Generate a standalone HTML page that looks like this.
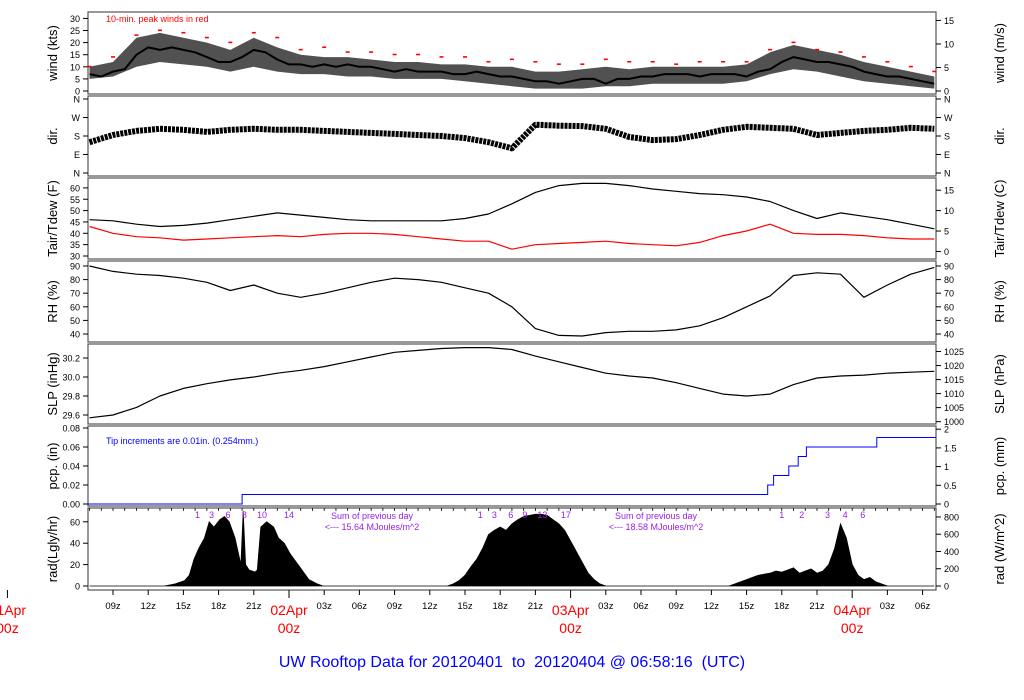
<!DOCTYPE html>
<html><head><meta charset="utf-8"><style>
html,body{margin:0;padding:0;background:#fff;}
svg{display:block;font-family:"Liberation Sans",sans-serif;}
</style></head><body>
<svg id="chart" width="1024" height="700" viewBox="0 0 1024 700" xmlns="http://www.w3.org/2000/svg"></svg>
<script>
// ---------- data ----------
const gridHours = [7,9,11,13,15,17,19,21,23,25,27,29,31,33,35,37,39,41,43,45,47,49,51,53,55,57,59,61,63,65,67,69,71,73,75,77,79];
const windHours = [];
for (let h = 7; h <= 79; h++) windHours.push(h);
const windKts = [7,6,8,9,15,18,17,18,17,16,14,12,12,14,17,16,13,11,11,10,11,10,11,10,10,9,8,9,8,8,8,7,7,8,7,6,6,5,4,4,3,4,5,5,3,5,5,6,6,7,7,7,6,7,7,7,6,8,9,12,14,13,12,12,11,10,8,7,6,6,5,4,3];
const windLo = [5,6,10,12,11,10,8,10,8,7,7,6,6,5,5,5,4,3,2,1,1,1,2,2,3,3,3,3,4,7,9,8,6,4,3,2,1];
const windHi = [10,12,22,24,22,20,17,22,18,15,14,14,13,12,12,11,11,10,10,8,8,9,10,9,10,10,10,10,11,16,19,17,15,12,10,8,6];
const gustKts = [10,14,23,25,24,22,20,24,22,17,18,16,16,15,15,14,14,12,13,12,11,11,13,12,12,11,12,12,12,17,20,17,16,14,12,10,8];
const dirDeg = [150,185,205,215,210,200,210,215,210,210,205,200,195,190,185,180,170,150,120,235,230,228,215,175,160,165,185,210,225,220,215,185,195,205,210,220,215];
const tairF = [46,45.5,44,43,43.5,44.5,46,47.5,49,48,47,46,45.5,45.5,45.5,45.5,46.5,48.5,53,58,61,62,62,61,59.5,58.5,57.5,57,56,54,50,46.5,49,47.5,46,44,42];
const tdewF = [43,40,38.5,38,37,37.5,38,38.5,39,38.5,39.5,40,40,39.5,38.5,37.5,36.5,36.5,33,35,35.5,36,36.5,35.5,35,34.5,36,39,41,44,40,39.5,39.5,39,38,37.5,37.5];
const rhPct = [90,86,84,83,81,78,72,76,70,67,70,74,78,81,80,78,74,70,60,44,39,38.5,41,42,42,43,46,52,60,68,83,85,84,67,76,84,89];
const slpIn = [29.57,29.6,29.68,29.8,29.88,29.93,29.97,30.0,30.04,30.07,30.11,30.16,30.21,30.26,30.28,30.3,30.31,30.31,30.29,30.22,30.16,30.1,30.04,30.01,29.99,29.94,29.88,29.82,29.8,29.82,29.92,29.99,30.01,30.02,30.04,30.05,30.06];
const tipHours = [20.0,64.8,65.3,66.6,67.4,68.1,74.1];
const tipSize = 0.01;
const radHours = [7,13.4,14.3,15.1,15.5,15.9,16.3,16.8,17.2,17.6,18.1,18.5,18.9,19.4,19.9,20.1,20.3,20.6,21.1,21.3,21.6,22.1,22.7,23.1,23.6,24.1,24.9,25.3,25.7,26.4,26.9,
  37.5,38,38.5,39,39.5,40,40.5,41,41.5,42,42.5,43,43.5,44,44.5,45,45.5,46,46.5,47,47.5,48,48.5,49,49.5,50,50.5,51,
  61.5,62,62.5,63,63.5,64,64.5,65,65.5,66,66.5,67,67.5,68,68.5,69,69.5,70,70.5,71,71.5,72,72.5,73,73.5,74,74.5,75,79];
const radLgly = [0,0,2,5,10,25,35,45,60,55,62,65,60,45,20,70,20,15,13,15,55,60,55,45,40,30,18,12,6,2,0,
  0,2,5,10,18,25,35,48,52,55,52,58,62,65,66,67,67,66,62,58,52,42,32,22,12,6,2,0,
  0,2,4,6,8,10,11,12,14,13,15,17,12,14,16,12,14,20,35,58,45,20,10,6,8,4,2,0,0];
const timeTicks = [9,12,15,18,21,27,30,33,36,39,42,45,51,54,57,60,63,66,69,75,78];
const timeTickLabels = ["09z","12z","15z","18z","21z","03z","06z","09z","12z","15z","18z","21z","03z","06z","09z","12z","15z","18z","21z","03z","06z"];
const dayTicks = [0,24,48,72];
const dayLabels = ["01Apr","02Apr","03Apr","04Apr"];
const windTicks = [0,5,10,15,20,25,30];
const windMsTicks = [0,5,10,15];
const dirTicks = [0,90,180,270,360];
const dirLabels = ["N","E","S","W","N"];
const tTicks = [30,35,40,45,50,55,60];
const tcTicks = [0,5,10,15];
const rhTicks = [40,50,60,70,80,90];
const slpTicks = [29.6,29.8,30.0,30.2];
const hpaTicks = [1000,1005,1010,1015,1020,1025];
const pcpTicks = [0,0.02,0.04,0.06,0.08];
const mmTicks = [0,0.5,1,1.5,2];
const radTicks = [0,20,40,60];
const wm2Ticks = [0,200,400,600,800];
const sunCounts1 = ["1","3","6","8","10","14"];
const sunHours1 = [16.2,17.4,18.8,20.2,21.7,24.0];
const sunCounts2 = ["1","3","6","9","13","17"];
const sunHours2 = [40.3,41.5,42.9,44.1,45.6,47.6];
const sunCounts3 = ["1","2","3","4","6"];
const sunHours3 = [66.0,67.7,69.9,71.4,72.9];

// ---------- scales ----------
const L = 88, R = 936;
const X = h => 289 + (h - 24) * 11.733;
const windY = k => 91 - k * 2.42;
const dirY = d => 173 - d * 74 / 360;
const tY = f => 256 - (f - 30) * 2.27;
const rhY = r => 334 - (r - 40) * 1.36;
const slpY = p => 377 - (p - 30) * 95;
const pcpY = i => 504 - i * 950;
const radY = l => 586 - l * 1.07;
const wmY = w => 586 - w * 0.0863;

const svg = document.getElementById('chart');
const NS = 'http://www.w3.org/2000/svg';
function mk(tag, attrs, parent) {
  const e = document.createElementNS(NS, tag);
  for (const k in attrs) e.setAttribute(k, attrs[k]);
  (parent || svg).appendChild(e);
  return e;
}
function txt(s, x, y, size, fill, anchor, parent) {
  const t = mk('text', {x: x, y: y, 'font-size': size, fill: fill, 'text-anchor': anchor || 'middle'}, parent);
  t.textContent = s;
  return t;
}

const panels = [
  {name:'wind', top:12, bot:94, left:'wind (kts)', right:'wind (m/s)'},
  {name:'direction', top:96, bot:176, left:'dir.', right:'dir.'},
  {name:'temperature', top:178, bot:259, left:'Tair/Tdew (F)', right:'Tair/Tdew (C)'},
  {name:'humidity', top:261, bot:342, left:'RH (%)', right:'RH (%)'},
  {name:'pressure', top:344, bot:424, left:'SLP (inHg)', right:'SLP (hPa)'},
  {name:'precip', top:426, bot:506, left:'pcp. (in)', right:'pcp. (mm)'},
  {name:'radiation', top:508, bot:590, left:'rad(Lgly/hr)', right:'rad (W/m^2)'}
];
const groups = {};
panels.forEach(p => {
  const g = mk('g', {});
  
  
  groups[p.name] = g;
  const box = mk('rect', {x:L, y:p.top, width:R-L, height:p.bot-p.top, fill:'none', stroke:'#555', 'stroke-width':1.2}, g);
  
  
  const cy = (p.top + p.bot) / 2;
  const lt = txt(p.left, 0, 0, 13, '#000', 'middle', g);
  lt.setAttribute('transform', 'translate(57,' + cy + ') rotate(-90)');
  
  
  const rt = txt(p.right, 0, 0, 13, '#000', 'middle', g);
  rt.setAttribute('transform', 'translate(1004,' + cy + ') rotate(-90)');
  
  
});

function leftTicks(g, vals, labels, yf, name) {
  vals.forEach((v, i) => {
    const y = yf(v);
    const t = mk('line', {x1:L-5, x2:L, y1:y, y2:y, stroke:'#000'}, g);
    
    
    const l = txt(labels[i], L-8, y+3.5, 9, '#000', 'end', g);
    
    
  });
}
function rightTicks(g, vals, labels, yf, name) {
  vals.forEach((v, i) => {
    const y = yf(v);
    const t = mk('line', {x1:R, x2:R+5, y1:y, y2:y, stroke:'#000'}, g);
    
    
    const l = txt(labels[i], R+8, y+3.5, 9, '#000', 'start', g);
    
    
  });
}
const fmt = v => String(v);
leftTicks(groups.wind, windTicks, windTicks.map(fmt), windY, 'wind');
rightTicks(groups.wind, windMsTicks, windMsTicks.map(fmt), v => windY(v * 1.944), 'wind');
leftTicks(groups.direction, dirTicks, dirLabels, dirY, 'dir');
rightTicks(groups.direction, dirTicks, dirLabels, dirY, 'dir');
leftTicks(groups.temperature, tTicks, tTicks.map(fmt), tY, 'temp');
rightTicks(groups.temperature, tcTicks, tcTicks.map(fmt), v => tY(v * 1.8 + 32), 'temp');
leftTicks(groups.humidity, rhTicks, rhTicks.map(fmt), rhY, 'rh');
rightTicks(groups.humidity, rhTicks, rhTicks.map(fmt), rhY, 'rh');
leftTicks(groups.pressure, slpTicks, slpTicks.map(v => v.toFixed(1)), slpY, 'slp');
rightTicks(groups.pressure, hpaTicks, hpaTicks.map(fmt), v => slpY(v / 33.8639), 'slp');
leftTicks(groups.precip, pcpTicks, pcpTicks.map(v => v.toFixed(2)), pcpY, 'pcp');
rightTicks(groups.precip, mmTicks, mmTicks.map(fmt), v => pcpY(v / 25.4), 'pcp');
leftTicks(groups.radiation, radTicks, radTicks.map(fmt), radY, 'rad');
rightTicks(groups.radiation, wm2Ticks, wm2Ticks.map(fmt), wmY, 'rad');

function poly(g, hs, vs, yf, color, w, name) {
  const pts = hs.map((h, i) => X(h).toFixed(1) + ',' + yf(vs[i]).toFixed(1)).join(' ');
  const p = mk('polyline', {points:pts, fill:'none', stroke:color, 'stroke-width':w, 'stroke-linejoin':'round'}, g);
  
  
  return p;
}

// wind variability band
(function(){
  let d = '';
  gridHours.forEach((h, i) => { d += (i ? ' L' : 'M') + X(h).toFixed(1) + ',' + windY(windHi[i]).toFixed(1); });
  for (let i = gridHours.length - 1; i >= 0; i--) d += ' L' + X(gridHours[i]).toFixed(1) + ',' + windY(windLo[i]).toFixed(1);
  d += ' Z';
  const b = mk('path', {d:d, fill:'#333', stroke:'none', opacity:0.85}, groups.wind);
  
  
})();
poly(groups.wind, windHours, windKts, windY, '#000', 2, 'wind-speed-line');
gustKts.forEach((v, i) => {
  const d = mk('rect', {x:X(gridHours[i])-2, y:windY(v)-1, width:4, height:1.6, fill:'#f00'}, groups.wind);
  
  
});
const wn = txt('10-min. peak winds in red', 106, 22, 9, '#f00', 'start', groups.wind);



// direction
const dl = poly(groups.direction, gridHours, dirDeg, dirY, '#000', 6, 'wind-direction-trace');
dl.setAttribute('stroke-dasharray', '3 1');

// temperature
poly(groups.temperature, gridHours, tairF, tY, '#000', 1.2, 'air-temperature-line');
poly(groups.temperature, gridHours, tdewF, tY, '#f00', 1.2, 'dewpoint-line');

// humidity
poly(groups.humidity, gridHours, rhPct, rhY, '#000', 1.2, 'relative-humidity-line');

// pressure
poly(groups.pressure, gridHours, slpIn, slpY, '#000', 1.2, 'sea-level-pressure-line');

// precipitation step
(function(){
  let acc = 0;
  let d = 'M' + L + ',' + pcpY(0);
  tipHours.forEach(h => {
    d += ' L' + X(h).toFixed(1) + ',' + pcpY(acc).toFixed(1);
    acc += tipSize;
    d += ' L' + X(h).toFixed(1) + ',' + pcpY(acc).toFixed(1);
  });
  d += ' L' + R + ',' + pcpY(acc).toFixed(1);
  const p = mk('path', {d:d, fill:'none', stroke:'#00f', 'stroke-width':1}, groups.precip);
  
  
})();
const pn = txt('Tip increments are 0.01in. (0.254mm.)', 106, 444, 9, '#00f', 'start', groups.precip);



// radiation area
(function(){
  let d = 'M' + X(radHours[0]).toFixed(1) + ',' + radY(0);
  radHours.forEach((h, i) => { d += ' L' + X(h).toFixed(1) + ',' + radY(radLgly[i]).toFixed(1); });
  d += ' L' + X(radHours[radHours.length-1]).toFixed(1) + ',' + radY(0) + ' Z';
  const p = mk('path', {d:d, fill:'#000', stroke:'#000', 'stroke-width':0.8}, groups.radiation);
  
  
})();
function sunLabels(labels, hours, name) {
  labels.forEach((s, i) => {
    const t = txt(s, X(hours[i]), 518, 9, '#9a1ee6', 'middle', groups.radiation);
    
    
  });
}
sunLabels(sunCounts1, sunHours1, 'day1-sun-hour-label');
sunLabels(sunCounts2, sunHours2, 'day2-sun-hour-label');
sunLabels(sunCounts3, sunHours3, 'day3-sun-hour-label');
[[372,'15.64'],[656,'18.58']].forEach(a => {
  const t1 = txt('Sum of previous day', a[0], 519, 9, '#9a1ee6', 'middle', groups.radiation);
  
  
  const t2 = txt('<--- ' + a[1] + ' MJoules/m^2', a[0], 530, 9, '#9a1ee6', 'middle', groups.radiation);
  
  
});

// time axis
const ax = mk('g', {});


for (let h = 7; h <= 79; h++) {
  const t = mk('line', {x1:X(h), x2:X(h), y1:508, y2:511, stroke:'#000', 'stroke-width':0.8}, ax);
  
  
}
timeTicks.forEach((h, i) => {
  const t = mk('line', {x1:X(h), x2:X(h), y1:590, y2:595, stroke:'#000'}, ax);
  
  
  const l = txt(timeTickLabels[i], X(h), 609, 9.5, '#000', 'middle', ax);
  
  
});
dayTicks.forEach((h, i) => {
  const t = mk('line', {x1:X(h), x2:X(h), y1:590, y2:598, stroke:'#000'}, ax);
  
  
  const l = txt(dayLabels[i], X(h), 615, 14, '#f00', 'middle', ax);
  
  
  const l2 = txt('00z', X(h), 633, 14, '#f00', 'middle', ax);
  
  
});
const title = txt('UW Rooftop Data for 20120401  to  20120404 @ 06:58:16  (UTC)', 512, 667, 16, '#00f', 'middle');
title.setAttribute('style', 'white-space:pre');


</script>
</body></html>
